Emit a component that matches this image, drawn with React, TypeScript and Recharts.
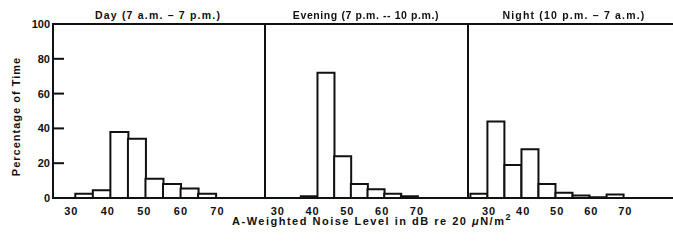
import { Bar, BarChart, ReferenceLine, XAxis, YAxis } from 'recharts';

const X_TICKS = [30, 40, 50, 60, 70];
const Y_TICKS = [0, 20, 40, 60, 80, 100];

// bin centres (dB) and share of time (%)
const DAY_LEVELS = [33.5, 38.3, 43.1, 47.9, 52.7, 57.5, 62.3, 67.1];
const DAY_PERCENT = [2.5, 4.5, 38, 34, 11, 8, 5.5, 2.5];
const EVENING_LEVELS = [39, 43.8, 48.6, 53.4, 58.2, 63, 67.8];
const EVENING_PERCENT = [1, 72, 24, 8, 5, 2.5, 1];
const NIGHT_LEVELS = [27, 32, 37, 42, 47, 52, 57, 62, 67];
const NIGHT_PERCENT = [2.5, 44, 19, 28, 8, 3, 1.5, 0.5, 2];

const FONT = '"Liberation Sans", Arial, sans-serif';
const INK = '#111';
const W = 673;
const H = 247;

// plot frame shared by the three panels
const TOP = 24;
const BOTTOM_MARGIN = 19;
const X_AXIS_H = 30;
const BASE = H - BOTTOM_MARGIN - X_AXIS_H;
const Y_AXIS_W = 53;
const SPLITS = [265, 468];

const zip = (levels: number[], pct: number[]) => levels.map((db, i) => ({ db, pct: pct[i] }));

const tickFont = { fill: INK, fontSize: 11, fontWeight: 'bold', fontFamily: FONT };

function Panel({
  data,
  domain,
  left,
  width,
  first,
}: {
  data: { db: number; pct: number }[];
  domain: [number, number];
  left: number;
  width: number;
  first?: boolean;
}) {
  return (
    <div style={{ position: 'absolute', left, top: 0, width, height: H }}>
      <BarChart
        width={width}
        height={H}
        data={data}
        margin={{ top: TOP, right: 0, left: 0, bottom: BOTTOM_MARGIN }}
        barCategoryGap={0}
        barGap={0}
      >
        <XAxis
          dataKey="db"
          type="number"
          domain={domain}
          ticks={X_TICKS}
          height={X_AXIS_H}
          tickLine={false}
          tickSize={0}
          tickMargin={9}
          stroke={INK}
          strokeWidth={2}
          tick={{ ...tickFont, letterSpacing: 1 }}
        />
        {first ? (
          <YAxis
            domain={[0, 100]}
            ticks={Y_TICKS}
            width={Y_AXIS_W}
            tickLine={false}
            tickSize={0}
            tickMargin={3}
            stroke={INK}
            strokeWidth={2}
            tick={tickFont}
          />
        ) : (
          <YAxis domain={[0, 100]} hide />
        )}
        <ReferenceLine y={100} stroke={INK} strokeWidth={2} />
        <Bar dataKey="pct" fill="#fff" stroke={INK} strokeWidth={2} isAnimationActive={false} />
      </BarChart>
    </div>
  );
}

const textStyle: React.CSSProperties = {
  position: 'absolute',
  fontFamily: FONT,
  fontWeight: 'bold',
  color: INK,
  textAlign: 'center',
  whiteSpace: 'nowrap',
};

function Title({ cx, children, spacing }: { cx: number; children: React.ReactNode; spacing: number }) {
  return (
    <div
      style={{
        ...textStyle,
        left: cx - 100,
        width: 200,
        top: 9,
        fontSize: 10.5,
        lineHeight: '12px',
        letterSpacing: spacing,
      }}
    >
      {children}
    </div>
  );
}

export default function App() {
  const plotH = BASE - TOP;
  const tickY = (t: number) => BASE - (t / 100) * plotH;
  return (
    <div style={{ position: 'fixed', left: 0, top: 0, width: W, height: H, background: '#fff' }}>
      <Panel data={zip(DAY_LEVELS, DAY_PERCENT)} domain={[25, 83]} left={0} width={SPLITS[0]} first />
      <Panel
        data={zip(EVENING_LEVELS, EVENING_PERCENT)}
        domain={[26.3, 84.7]}
        left={SPLITS[0]}
        width={SPLITS[1] - SPLITS[0]}
      />
      <Panel data={zip(NIGHT_LEVELS, NIGHT_PERCENT)} domain={[23.8, 84]} left={SPLITS[1]} width={W - SPLITS[1]} />

      {/* frame as closed shapes: outer box, panel dividers, inward y ticks */}
      <svg
        width={W}
        height={H}
        style={{ position: 'absolute', left: 0, top: 0, zIndex: 2, pointerEvents: 'none' }}
      >
        <rect
          x={Y_AXIS_W}
          y={TOP}
          width={W - Y_AXIS_W + 2}
          height={plotH}
          fill="none"
          stroke={INK}
          strokeWidth={2}
        />
        {SPLITS.map((x) => (
          <rect key={x} x={x - 1} y={TOP - 1} width={2} height={plotH + 2} fill={INK} />
        ))}
        {Y_TICKS.filter((t) => t > 0 && t < 100).map((t) => (
          <rect key={t} x={Y_AXIS_W} y={tickY(t) - 1} width={11} height={2} fill={INK} />
        ))}
      </svg>

      <Title cx={158} spacing={1.2}>
        Day (7 a.m. – 7 p.m.)
      </Title>
      <Title cx={366} spacing={0.6}>
        Evening (7 p.m. -- 10 p.m.)
      </Title>
      <Title cx={574} spacing={1.2}>
        Night (10 p.m. – 7 a.m.)
      </Title>
      <div
        style={{
          ...textStyle,
          left: -64,
          width: 160,
          top: 109.5,
          height: 13,
          fontSize: 11,
          lineHeight: '13px',
          letterSpacing: 1,
          transform: 'rotate(-90deg)',
        }}
      >
        Percentage of Time
      </div>
      <div
        style={{
          ...textStyle,
          left: 172,
          width: 400,
          top: 217,
          fontSize: 11,
          lineHeight: '9px',
          letterSpacing: 1.5,
        }}
      >
        A-Weighted Noise Level in dB re 20 <i>μ</i>N/m
        <sup style={{ fontSize: 9, lineHeight: 0 }}>2</sup>
      </div>
    </div>
  );
}
